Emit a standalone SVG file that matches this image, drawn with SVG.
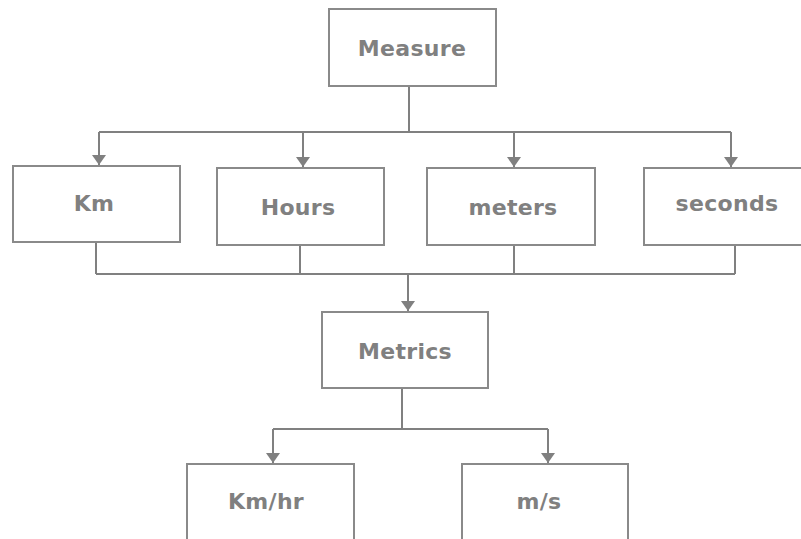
<svg xmlns="http://www.w3.org/2000/svg" width="801" height="539" viewBox="0 0 801 539">
<style>
.box{fill:#fff;stroke:#8a8a8a;stroke-width:2}
.lbl{font-family:"DejaVu Sans",Verdana,sans-serif;font-weight:bold;font-size:22px;fill:#808080;text-anchor:middle;letter-spacing:0.3px}
.ln{fill:none;stroke:#808080;stroke-width:2}
</style>
<defs>
<marker id="ah" viewBox="0 0 10 14" refX="10" refY="7" markerWidth="10" markerHeight="14" markerUnits="userSpaceOnUse" orient="auto">
<path d="M0,0 L10,7 L0,14 Z" fill="#808080"/>
</marker>
</defs>
<rect width="801" height="539" fill="#fff"/>
<g id="connectors">
<path class="ln" d="M409,86 V132"/>
<path class="ln" d="M99,132 H731"/>
<path class="ln" d="M99,132 V165" marker-end="url(#ah)"/>
<path class="ln" d="M303,132 V167" marker-end="url(#ah)"/>
<path class="ln" d="M514,132 V167" marker-end="url(#ah)"/>
<path class="ln" d="M731,132 V167" marker-end="url(#ah)"/>
<path class="ln" d="M96,242 V274"/>
<path class="ln" d="M300,245 V274"/>
<path class="ln" d="M514,245 V274"/>
<path class="ln" d="M735,245 V274"/>
<path class="ln" d="M96,274 H735"/>
<path class="ln" d="M408,274 V311" marker-end="url(#ah)"/>
<path class="ln" d="M402,388 V429"/>
<path class="ln" d="M273,429 H548"/>
<path class="ln" d="M273,429 V463" marker-end="url(#ah)"/>
<path class="ln" d="M548,429 V463" marker-end="url(#ah)"/>
</g>
<g id="measure"><rect class="box" x="329" y="9" width="167" height="77"/><text class="lbl" x="412" y="56">Measure</text></g>
<g id="km"><rect class="box" x="13" y="166" width="167" height="76"/><text class="lbl" x="94" y="211">Km</text></g>
<g id="hours"><rect class="box" x="217" y="168" width="167" height="77"/><text class="lbl" x="298" y="215">Hours</text></g>
<g id="meters"><rect class="box" x="427" y="168" width="168" height="77"/><text class="lbl" x="513" y="215">meters</text></g>
<g id="seconds"><rect class="box" x="644" y="168" width="170" height="77"/><text class="lbl" x="727" y="211">seconds</text></g>
<g id="metrics"><rect class="box" x="322" y="312" width="166" height="76"/><text class="lbl" x="405" y="359">Metrics</text></g>
<g id="kmhr"><rect class="box" x="187" y="464" width="167" height="90"/><text class="lbl" x="266" y="509">Km/hr</text></g>
<g id="ms"><rect class="box" x="462" y="464" width="166" height="90"/><text class="lbl" x="539" y="509">m/s</text></g>
</svg>
